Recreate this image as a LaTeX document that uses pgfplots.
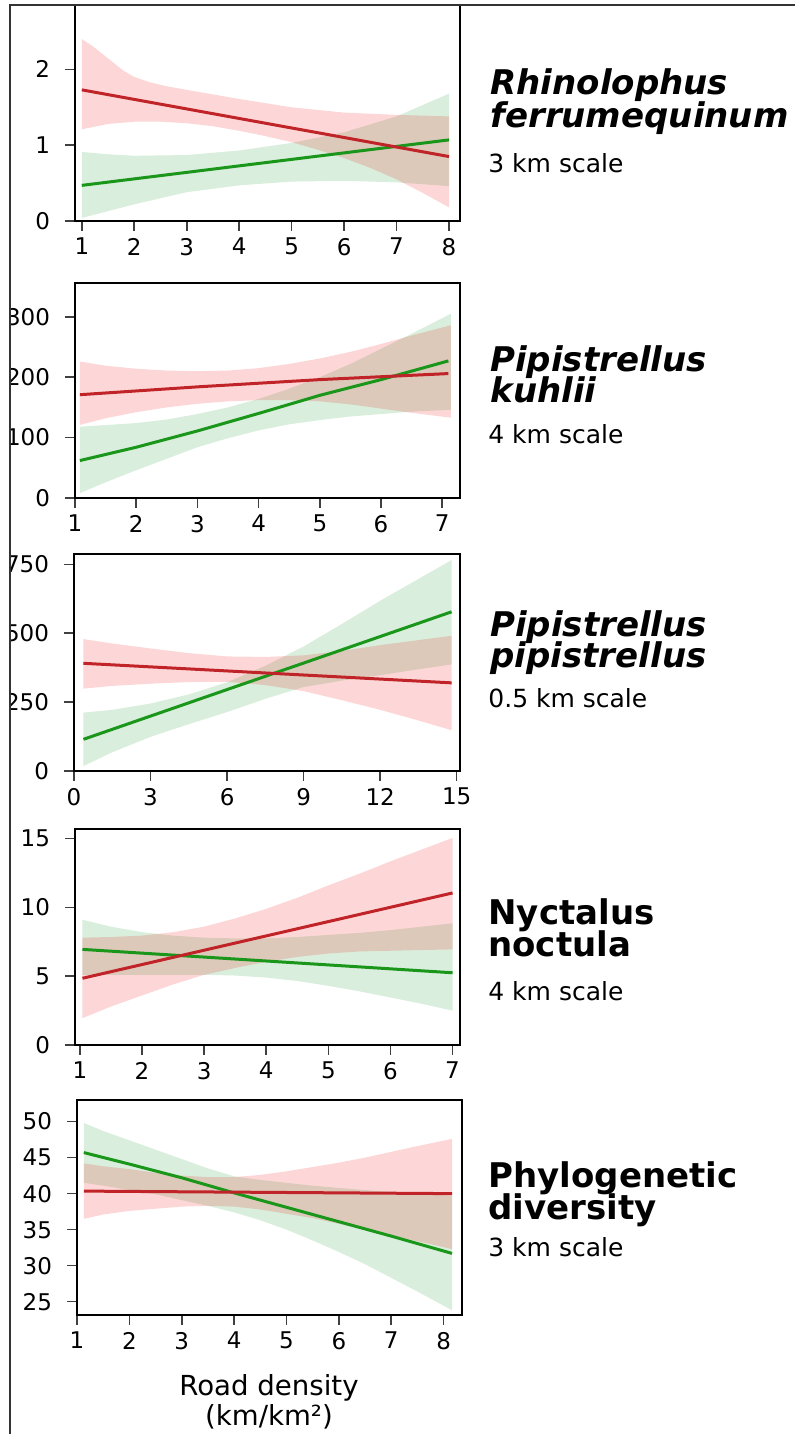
\documentclass[border=0pt]{standalone}
\usepackage{fontspec}
\setmainfont{DejaVu Sans}
\usepackage{pgfplots}
\pgfplotsset{compat=1.18}

\definecolor{redline}{RGB}{192,36,40}
\definecolor{greenline}{RGB}{26,150,26}
\definecolor{redfill}{RGB}{240,0,0}
\definecolor{greenfill}{RGB}{0,140,20}

\pgfplotsset{
  panel/.style={scale only axis, width=192.5pt, height=108pt, anchor=south west,
    axis line style={line width=0.9pt, black},
    tick style={line width=0.8pt, black!75},
    major tick length=5pt, tick align=outside,
    xtick pos=left, ytick pos=left,
    ticklabel style={font=\fontsize{11.5}{13}\selectfont},
    yticklabel style={xshift=-4pt},
    /pgf/number format/assume math mode=true},
  rfill/.style={draw=none, fill=redfill, fill opacity=0.155, no marks},
  gfill/.style={draw=none, fill=greenfill, fill opacity=0.15, no marks},
  rln/.style={draw=redline, line width=1.5pt, no marks},
  gln/.style={draw=greenline, line width=1.5pt, no marks},
}
\newcommand{\ttl}{\fontsize{17}{17}\selectfont\bfseries}
\newcommand{\scl}{\fontsize{12.5}{13}\selectfont}

\begin{document}
\begin{tikzpicture}
\path[use as bounding box] (0,0) rectangle (397.5pt,717pt);

% Panel 1
\begin{axis}[panel, at={(37.5pt,606.5pt)}, xmin=0.87, xmax=8.21, ymin=0, ymax=2.85,
  xtick={1,2,3,4,5,6,7,8}, ytick={0,1,2}]
\addplot[gfill] coordinates {(1,0.91) (1.5,0.88) (2,0.86) (3,0.87) (4,0.93) (5,1.03) (6,1.17) (7,1.38) (8,1.68)
  (8,0.46) (7,0.51) (6,0.53) (5,0.52) (4,0.47) (3,0.38) (2,0.22) (1.5,0.13) (1,0.04)};
\addplot[rfill] coordinates {(1,2.40) (1.2,2.31) (1.4,2.20) (1.6,2.09) (1.8,1.98) (2,1.90) (2.3,1.83) (2.6,1.78) (3,1.73) (4,1.61) (5,1.50) (6,1.43) (7,1.40) (8,1.38)
  (8,0.18) (7.5,0.37) (7,0.55) (6.5,0.70) (6,0.83) (5.5,0.94) (5,1.04) (4.5,1.12) (4,1.19) (3.5,1.25) (3,1.29) (2.5,1.31) (2,1.31) (1.5,1.28) (1,1.21)};
\addplot[gln] coordinates {(1,0.47) (8,1.07)};
\addplot[rln] coordinates {(1,1.73) (8,0.85)};
\end{axis}

% Panel 2
\begin{axis}[panel, at={(37.5pt,468pt)}, height=107.5pt, xmin=1, xmax=7.29, ymin=0, ymax=356,
  xtick={1,2,3,4,5,6,7}, ytick={0,100,200,300}]
\addplot[gfill] coordinates {(1.08,118) (2,124) (2.5,130) (3,139) (3.5,150) (4,164) (4.5,181) (5,200) (5.5,222) (6,247) (6.5,272) (7.14,305)
  (7.14,146) (6.5,143) (6,139) (5.5,135) (5,129) (4.5,122) (4,112) (3.5,99) (3,84) (2.5,65) (2,46) (1.5,26) (1.08,8)};
\addplot[rfill] coordinates {(1.08,226) (1.5,219) (2,214) (2.5,211) (3,210) (3.5,211) (4,215) (4.5,222) (5,231) (5.5,242) (6,255) (6.5,269) (7.14,286)
  (7.14,133) (6.5,141) (6,148) (5.5,155) (5,160) (4.5,162) (4,162) (3.5,160) (3,156) (2.5,150) (2,142) (1.5,132) (1.08,121)};
\addplot[gln] coordinates {(1.08,62) (2,84) (3,111) (4,140) (5,170) (6,196) (7.1,227)};
\addplot[rln] coordinates {(1.08,171) (3,184) (5,196) (7.1,206)};
\end{axis}

% Panel 3
\begin{axis}[panel, at={(37pt,331.5pt)}, width=193pt, height=108.5pt, xmin=0, xmax=15.13, ymin=0, ymax=788,
  xtick={0,3,6,9,12,15}, ytick={0,250,500,750}]
\addplot[gfill] coordinates {(0.37,212) (1.5,222) (3,245) (4.5,278) (6,322) (7.5,382) (9,452) (10.5,534) (12,618) (13.4,692) (14.8,766)
  (14.8,387) (13.4,368) (12,348) (10.5,328) (9,305) (7.5,262) (6,214) (4.5,170) (3,124) (1.5,68) (0.37,18)};
\addplot[rfill] coordinates {(0.37,479) (1.5,463) (3,445) (4.5,428) (6,416) (7.5,414) (9,420) (10.5,436) (12,457) (13.4,474) (14.8,491)
  (14.8,148) (13.4,186) (12,222) (10.5,257) (9,290) (7.5,312) (6,324) (4.5,323) (3,317) (1.5,309) (0.37,299)};
\addplot[gln] coordinates {(0.37,115) (14.8,578)};
\addplot[rln] coordinates {(0.37,391) (14.8,320)};
\end{axis}

% Panel 4
\begin{axis}[panel, at={(37.5pt,194.5pt)}, xmin=0.92, xmax=7.12, ymin=0, ymax=15.7,
  xtick={1,2,3,4,5,6,7}, ytick={0,5,10,15}]
\addplot[gfill] coordinates {(1.04,9.1) (1.5,8.6) (2,8.2) (2.5,7.95) (3,7.8) (3.5,7.75) (4,7.75) (4.5,7.85) (5,8.0) (5.5,8.15) (6,8.35) (6.5,8.6) (7,8.85)
  (7,2.5) (6.5,3.0) (6,3.45) (5.5,3.9) (5,4.3) (4.5,4.65) (4,4.9) (3.5,5.05) (3,5.1) (2,5.1) (1.04,5.1)};
\addplot[rfill] coordinates {(1.04,7.8) (1.5,7.85) (2,7.95) (2.5,8.2) (3,8.6) (3.5,9.2) (4,9.9) (4.5,10.7) (5,11.6) (5.5,12.45) (6,13.35) (6.5,14.2) (7,15.05)
  (7,6.95) (6.5,6.9) (6,6.85) (5.5,6.8) (5,6.65) (4.5,6.4) (4,6.05) (3.5,5.6) (3,5.1) (2.5,4.4) (2,3.6) (1.5,2.8) (1.04,1.95)};
\addplot[gln] coordinates {(1.04,6.95) (7,5.25)};
\addplot[rln] coordinates {(1.04,4.85) (7,11.05)};
\end{axis}

% Panel 5
\begin{axis}[panel, at={(38.5pt,59.5pt)}, height=107.5pt, xmin=1, xmax=8.35, ymin=23.15, ymax=53,
  xtick={1,2,3,4,5,6,7,8}, ytick={25,30,35,40,45,50}]
\addplot[gfill] coordinates {(1.13,49.8) (1.5,48.7) (2,47.4) (2.5,46.1) (3,44.8) (3.5,43.5) (4,42.4) (4.5,41.9) (5,41.5) (5.5,41.1) (6,40.8) (7,40.2) (8.16,39.7)
  (8.16,23.8) (7.5,26.4) (7,28.3) (6.5,30.2) (6,31.9) (5.5,33.5) (5,35.0) (4.5,36.3) (4,37.4) (3.5,38.3) (3,39.1) (2.5,39.9) (2,40.5) (1.5,41.1) (1.13,41.5)};
\addplot[rfill] coordinates {(1.13,44.2) (1.5,43.8) (2,43.4) (2.5,42.9) (3,42.5) (3.5,42.3) (4,42.3) (4.5,42.6) (5,43.1) (5.5,43.7) (6,44.3) (6.5,45.0) (7,45.8) (7.5,46.6) (8.16,47.6)
  (8.16,32.3) (7.5,33.4) (7,34.2) (6.5,35.0) (6,35.8) (5.5,36.6) (5,37.2) (4.5,37.8) (4,38.2) (3.5,38.3) (3,38.2) (2.5,37.9) (2,37.6) (1.5,37.1) (1.13,36.5)};
\addplot[gln] coordinates {(1.13,45.7) (2,44.1) (3,42.2) (4,40.1) (5,38.1) (6,36.1) (7,34.1) (8.16,31.7)};
\addplot[rln] coordinates {(1.13,40.35) (8.16,40.0)};
\end{axis}

% frame lines
\fill[white] (0,0) rectangle (5pt,717pt);
\draw[line width=1pt, black!80] (5pt,0) -- (5pt,714.5pt) -- (397.5pt,714.5pt);

% titles
\node[anchor=base west, inner sep=0] at (245pt,669.5pt) {\ttl\itshape Rhinolophus};
\node[anchor=base west, inner sep=0] at (245pt,653pt) {\ttl\itshape ferrumequinum};
\node[anchor=base west, inner sep=0] at (244pt,630.5pt) {\scl 3 km scale};

\node[anchor=base west, inner sep=0] at (245pt,531pt) {\ttl\itshape Pipistrellus};
\node[anchor=base west, inner sep=0] at (245pt,515.5pt) {\ttl\itshape kuhlii};
\node[anchor=base west, inner sep=0] at (244pt,495pt) {\scl 4 km scale};

\node[anchor=base west, inner sep=0] at (245pt,398.5pt) {\ttl\itshape Pipistrellus};
\node[anchor=base west, inner sep=0] at (245pt,383pt) {\ttl\itshape pipistrellus};
\node[anchor=base west, inner sep=0] at (244pt,363pt) {\scl 0.5 km scale};

\node[anchor=base west, inner sep=0] at (244pt,254.5pt) {\ttl Nyctalus};
\node[anchor=base west, inner sep=0] at (244pt,238.5pt) {\ttl noctula};
\node[anchor=base west, inner sep=0] at (244pt,216.5pt) {\scl 4 km scale};

\node[anchor=base west, inner sep=0] at (244pt,123pt) {\ttl Phylogenetic};
\node[anchor=base west, inner sep=0] at (244pt,107pt) {\ttl diversity};
\node[anchor=base west, inner sep=0] at (244pt,88.5pt) {\scl 3 km scale};

% x label
\node[anchor=base, inner sep=0] at (134.5pt,19pt) {\fontsize{13.8}{14}\selectfont Road density};
\node[anchor=base, inner sep=0] at (134.5pt,4.5pt) {\fontsize{13.8}{14}\selectfont (km/km²)};
\end{tikzpicture}
\end{document}
